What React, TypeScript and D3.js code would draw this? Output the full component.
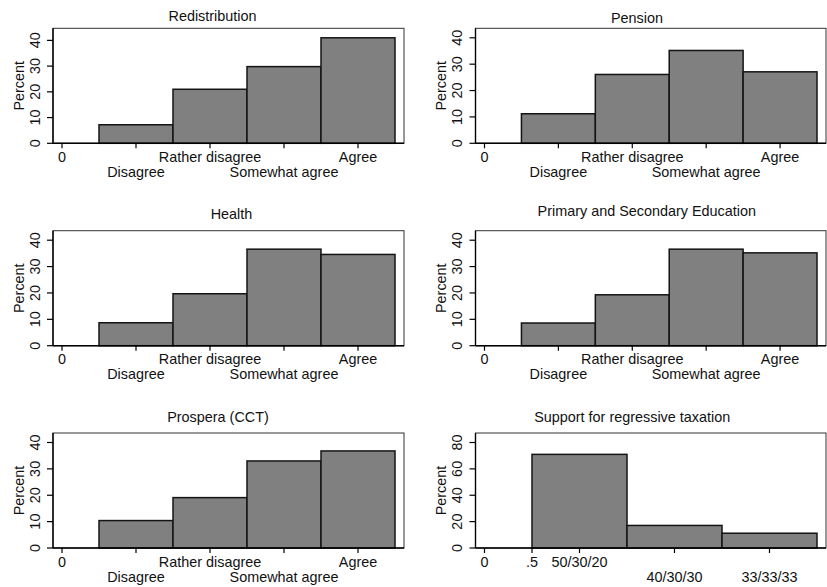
import React from "react";
import * as d3 from "d3";

// Share of respondents (percent) per answer category
const agreeCategories = ["Disagree", "Rather disagree", "Somewhat agree", "Agree"];
const redistribution = [7.2, 21.0, 29.8, 41.0];
const pension = [11.2, 26.1, 35.2, 27.1];
const health = [8.7, 19.7, 36.6, 34.6];
const education = [8.6, 19.3, 36.6, 35.2];
const prospera = [10.4, 19.1, 33.0, 36.8];

const taxCategories = ["50/30/20", "40/30/30", "33/33/33"];
const regressiveTax = [71.0, 17.1, 11.2];

const agreeTickValues = [0, 1, 2, 3, 4];
const agreeTickLabels = ["0", ...agreeCategories];
const agreeTickRows = [0, 1, 0, 1, 0];

const taxTickValues = [0, 0.5, 1, 2, 3];
const taxTickLabels = ["0", ".5", ...taxCategories];
const taxTickRows = [0, 0, 0, 1, 1];

const percentTicks40 = [0, 10, 20, 30, 40];
const percentTicks80 = [0, 20, 40, 60, 80];

type Panel = {
  title: string;
  values: number[];
  tickValues: number[];
  tickLabels: string[];
  tickRows: number[];
  yTicks: number[];
};

const panels: Panel[] = [
  { title: "Redistribution", values: redistribution, tickValues: agreeTickValues, tickLabels: agreeTickLabels, tickRows: agreeTickRows, yTicks: percentTicks40 },
  { title: "Pension", values: pension, tickValues: agreeTickValues, tickLabels: agreeTickLabels, tickRows: agreeTickRows, yTicks: percentTicks40 },
  { title: "Health", values: health, tickValues: agreeTickValues, tickLabels: agreeTickLabels, tickRows: agreeTickRows, yTicks: percentTicks40 },
  { title: "Primary and Secondary Education", values: education, tickValues: agreeTickValues, tickLabels: agreeTickLabels, tickRows: agreeTickRows, yTicks: percentTicks40 },
  { title: "Prospera (CCT)", values: prospera, tickValues: agreeTickValues, tickLabels: agreeTickLabels, tickRows: agreeTickRows, yTicks: percentTicks40 },
  { title: "Support for regressive taxation", values: regressiveTax, tickValues: taxTickValues, tickLabels: taxTickLabels, tickRows: taxTickRows, yTicks: percentTicks80 },
];

// Layout of the 3x2 grid of plot regions
const colLeft = [53, 475.5];
const colRight = [404, 826];
const rowBottom = [143.3, 345.7, 548];
const plotHeight = 115;
// title anchor (center x, baseline y) for each panel
const titlePos = [
  [212.5, 21],
  [637, 23.3],
  [231.5, 219],
  [646.8, 215.7],
  [218, 421.7],
  [632.2, 422.3],
];

const FONT = "'Liberation Sans', Arial, Helvetica, sans-serif";
const FS = 14.4;
const INK = "#111";

function HistPanel({ panel, index }: { panel: Panel; index: number }) {
  const col = index % 2;
  const row = Math.floor(index / 2);
  const x0 = colLeft[col];
  const x1 = colRight[col];
  const bottom = rowBottom[row];
  const top = bottom - plotHeight;

  const xMax = panel.values.length + 0.5;
  const x = d3.scaleLinear().domain([0, xMax]).range([x0 + 9, x1 - 9]);
  const yMax = Math.max(d3.max(panel.values) as number, d3.max(panel.yTicks) as number);
  const y = d3.scaleLinear().domain([0, yMax]).range([bottom, top + 9.5]);

  const [tx, ty] = titlePos[index];

  return (
    <g>
      <text x={tx} y={ty} textAnchor="middle" fontFamily={FONT} fontSize={FS} fill={INK}>
        {panel.title}
      </text>
      {/* plot region frame */}
      <rect x={x0} y={top} width={x1 - x0} height={plotHeight} fill="white" stroke="#333" strokeWidth={1} />
      {panel.values.map((v, i) => (
        <rect
          key={i}
          x={x(i + 0.5)}
          y={y(v)}
          width={x(i + 1.5) - x(i + 0.5)}
          height={y(0) - y(v)}
          fill="#808080"
          stroke="#141414"
          strokeWidth={1.5}
        />
      ))}
      {/* axes */}
      <line x1={x0} x2={x0} y1={top} y2={bottom} stroke="#000" strokeWidth={1.4} />
      <line x1={x0} x2={x1} y1={bottom} y2={bottom} stroke="#000" strokeWidth={1.4} />
      {panel.yTicks.map((t) => (
        <g key={"y" + t}>
          <line x1={x0 - 6} x2={x0} y1={y(t)} y2={y(t)} stroke="#000" strokeWidth={1.2} />
          <text
            transform={`translate(${x0 - 13.4},${y(t)}) rotate(-90)`}
            textAnchor="middle"
            fontFamily={FONT}
            fontSize={FS}
            fill={INK}
          >
            {t}
          </text>
        </g>
      ))}
      <text
        transform={`translate(${x0 - 29.5},${(top + bottom) / 2}) rotate(-90)`}
        textAnchor="middle"
        fontFamily={FONT}
        fontSize={FS}
        fill={INK}
      >
        Percent
      </text>
      {panel.tickValues.map((t, i) => (
        <g key={"x" + i}>
          <line x1={x(t)} x2={x(t)} y1={bottom} y2={bottom + 5} stroke="#000" strokeWidth={1.2} />
          <text
            x={x(t)}
            y={bottom + (panel.tickRows[i] === 0 ? 18.5 : 33.5)}
            textAnchor="middle"
            fontFamily={FONT}
            fontSize={FS}
            fill={INK}
          >
            {panel.tickLabels[i]}
          </text>
        </g>
      ))}
    </g>
  );
}

export default function App() {
  return (
    <svg
      width={827}
      height={587}
      style={{ position: "absolute", left: 0, top: 0, background: "white" }}
    >
      <rect width={827} height={587} fill="white" />
      {panels.map((p, i) => (
        <HistPanel key={p.title} panel={p} index={i} />
      ))}
    </svg>
  );
}
